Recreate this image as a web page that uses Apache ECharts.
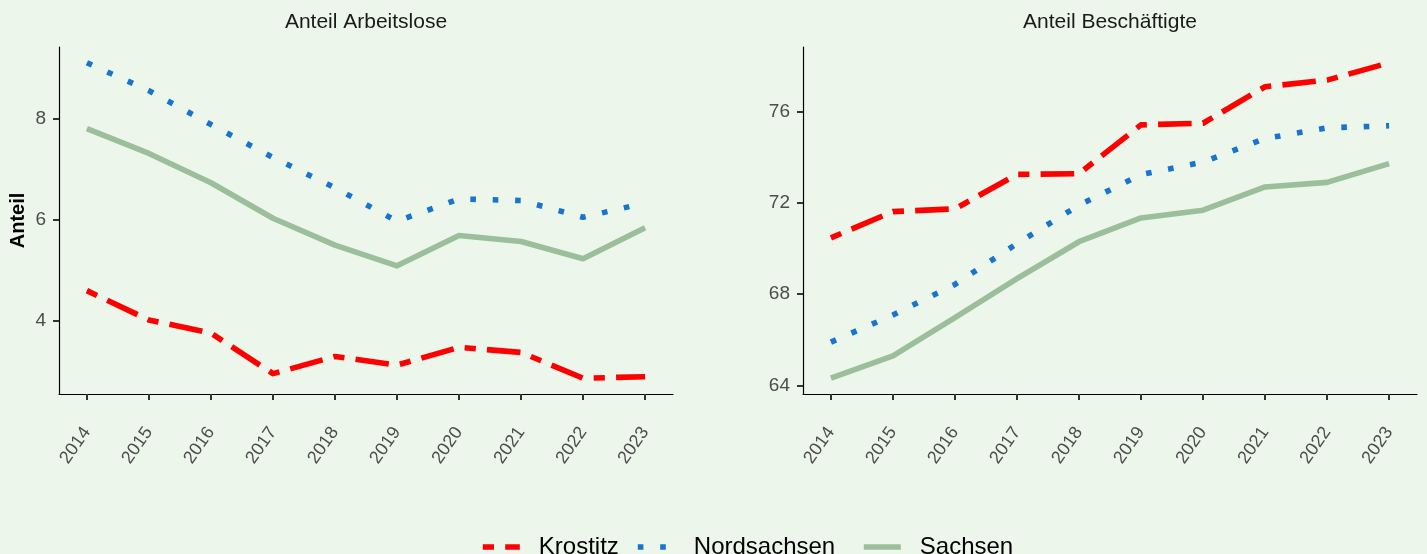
<!DOCTYPE html>
<html>
<head>
<meta charset="utf-8">
<script src="https://cdn.jsdelivr.net/npm/echarts@6/dist/echarts.min.js"></script>
<style>
html,body{margin:0;padding:0;background:#EDF6EB;}
#chart{width:1427px;height:554px;}
</style>
</head>
<body>
<div id="chart"></div>
<script>
const years = [2014, 2015, 2016, 2017, 2018, 2019, 2020, 2021, 2022, 2023];
const seriesNames = ['Krostitz', 'Nordsachsen', 'Sachsen'];
const panelTitles = ['Anteil Arbeitslose', 'Anteil Beschäftigte'];
const yAxisTitle = 'Anteil';

// Anteil Arbeitslose
const arbeitsloseKrostitz = [4.60, 4.02, 3.76, 2.96, 3.30, 3.13, 3.48, 3.38, 2.87, 2.90];
const arbeitsloseNordsachsen = [9.10, 8.55, 7.88, 7.23, 6.63, 5.97, 6.41, 6.38, 6.05, 6.33];
const arbeitsloseSachsen = [7.80, 7.31, 6.73, 6.03, 5.50, 5.09, 5.69, 5.57, 5.23, 5.84];

// Anteil Beschäftigte
const beschKrostitz = [70.47, 71.62, 71.74, 73.25, 73.28, 75.42, 75.49, 77.09, 77.38, 78.14];
const beschNordsachsen = [65.90, 67.09, 68.43, 70.22, 71.90, 73.24, 73.79, 74.82, 75.29, 75.38];
const beschSachsen = [64.32, 65.30, 66.98, 68.68, 70.30, 71.34, 71.68, 72.70, 72.90, 73.72];

const yTicksLeft = [4, 6, 8];
const yTicksRight = [64, 68, 72, 76];

const colors = {Krostitz: '#FF0000', Nordsachsen: '#1874CD', Sachsen: '#9BBF9B'};
const LW = 5.6;
const dashes = {
  Krostitz: [LW * 2, LW * 2, LW * 6, LW * 2],
  Nordsachsen: [LW, LW * 3],
  Sachsen: 'solid'
};

function pad(arrs) {
  const all = [].concat(...arrs);
  const mn = Math.min(...all), mx = Math.max(...all);
  const e = (mx - mn) * 0.05;
  return [mn - e, mx + e];
}
const leftRange = pad([arbeitsloseKrostitz, arbeitsloseNordsachsen, arbeitsloseSachsen]);
const rightRange = pad([beschKrostitz, beschNordsachsen, beschSachsen]);
const xPad = (years[years.length - 1] - years[0]) * 0.05;

const FONT = 'Liberation Sans, Arial, sans-serif';

function xAxis(gi) {
  return {
    type: 'value', gridIndex: gi,
    min: years[0] - xPad, max: years[years.length - 1] + xPad,
    splitLine: {show: false},
    axisLine: {show: true, onZero: false, lineStyle: {color: '#000', width: 1.2}},
    axisTick: {show: true, customValues: years, length: 6, lineStyle: {color: '#333', width: 2}},
    axisLabel: {customValues: years, rotate: 55, margin: 35, color: '#4D4D4D', fontSize: 18, fontFamily: FONT,
      formatter: v => String(Math.round(v))}
  };
}
function yAxis(gi, range, ticks, name) {
  return {
    type: 'value', gridIndex: gi, min: range[0], max: range[1],
    name: name || '', nameLocation: 'middle', nameGap: 31, nameRotate: 90,
    nameTextStyle: {fontWeight: 'bold', fontSize: 20, color: '#000', fontFamily: FONT},
    splitLine: {show: false},
    axisLine: {show: true, onZero: false, lineStyle: {color: '#000', width: 1.2}},
    axisTick: {show: true, customValues: ticks, length: 6, lineStyle: {color: '#333', width: 2}},
    axisLabel: {customValues: ticks, margin: 13, color: '#4D4D4D', fontSize: 19, fontFamily: FONT,
      formatter: v => String(Math.round(v))}
  };
}
function line(name, gi, data) {
  return {
    name, type: 'line', xAxisIndex: gi, yAxisIndex: gi,
    data: years.map((y, i) => [y, data[i]]),
    symbol: 'none', silent: true,
    lineStyle: {color: colors[name], width: LW, type: dashes[name], cap: 'butt', join: 'round'},
    itemStyle: {color: colors[name]}
  };
}
function legendItem(name, left) {
  return {
    data: [name], left: left, top: 535, padding: 0,
    itemWidth: 37, itemHeight: 14,
    lineStyle: {color: colors[name], width: LW, type: dashes[name], cap: 'butt'},
    itemStyle: {color: 'rgba(0,0,0,0)', borderWidth: 0, opacity: 0},
    textStyle: {fontSize: 24, color: '#000', fontFamily: FONT, padding: [0, 0, 0, 14]},
    selectedMode: false
  };
}

const chart = echarts.init(document.getElementById('chart'), null, {renderer: 'canvas'});
chart.setOption({
  backgroundColor: '#EDF6EB',
  animation: false,
  title: [
    {text: panelTitles[0], left: 366, top: 12, textAlign: 'center', padding: 0,
      textStyle: {fontSize: 21, fontWeight: 'normal', color: '#1A1A1A', fontFamily: FONT}},
    {text: panelTitles[1], left: 1110, top: 12, textAlign: 'center', padding: 0,
      textStyle: {fontSize: 21, fontWeight: 'normal', color: '#1A1A1A', fontFamily: FONT}}
  ],
  grid: [
    {left: 59, top: 47, width: 614, height: 347},
    {left: 803, top: 47, width: 614, height: 347}
  ],
  xAxis: [xAxis(0), xAxis(1)],
  yAxis: [yAxis(0, leftRange, yTicksLeft, yAxisTitle), yAxis(1, rightRange, yTicksRight)],
  legend: [legendItem('Krostitz', 480), legendItem('Nordsachsen', 635), legendItem('Sachsen', 861)],
  series: [
    line('Krostitz', 0, arbeitsloseKrostitz),
    line('Nordsachsen', 0, arbeitsloseNordsachsen),
    line('Sachsen', 0, arbeitsloseSachsen),
    line('Krostitz', 1, beschKrostitz),
    line('Nordsachsen', 1, beschNordsachsen),
    line('Sachsen', 1, beschSachsen)
  ]
});
</script>
</body>
</html>
